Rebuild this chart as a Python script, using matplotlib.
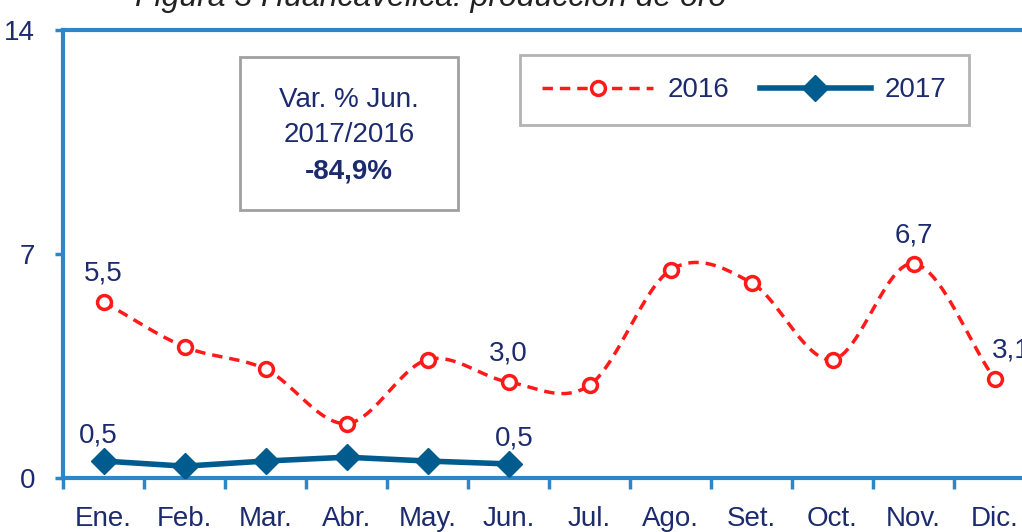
import matplotlib.pyplot as plt
from matplotlib.patches import Rectangle
import numpy as np

months = ["Ene.", "Feb.", "Mar.", "Abr.", "May.", "Jun.", "Jul.", "Ago.", "Set.", "Oct.", "Nov.", "Dic."]
prod_2016 = [5.5, 4.1, 3.4, 1.7, 3.7, 3.0, 2.9, 6.5, 6.1, 3.7, 6.7, 3.1]
prod_2017 = [0.53, 0.37, 0.53, 0.65, 0.53, 0.44]
labels_2016 = {0: "5,5", 5: "3,0", 10: "6,7", 11: "3,1"}
labels_2017 = {0: "0,5", 5: "0,5"}

FONT = ["Liberation Sans Narrow", "Liberation Sans", "DejaVu Sans"]
NAVY = "#1c2b6e"
AXBLUE = "#2f86c6"
RED = "#ff1a1a"
TEAL = "#005c8f"
FS = 20


def smooth(xs, ys, n=20):
    # Catmull-Rom curve through the points, like Excel smoothed lines
    xs = np.asarray(xs, float)
    ys = np.asarray(ys, float)
    px = np.concatenate([[2 * xs[0] - xs[1]], xs, [2 * xs[-1] - xs[-2]]])
    py = np.concatenate([[2 * ys[0] - ys[1]], ys, [2 * ys[-1] - ys[-2]]])
    ox, oy = [], []
    t = np.linspace(0, 1, n, endpoint=False)
    for i in range(1, len(px) - 2):
        for p, out in ((px, ox), (py, oy)):
            p0, p1, p2, p3 = p[i - 1], p[i], p[i + 1], p[i + 2]
            out.extend(0.5 * (2 * p1 + (-p0 + p2) * t + (2 * p0 - 5 * p1 + 4 * p2 - p3) * t ** 2
                              + (-p0 + 3 * p1 - 3 * p2 + p3) * t ** 3))
    ox.append(xs[-1])
    oy.append(ys[-1])
    return ox, oy


plt.rcParams['font.family'] = FONT

fig = plt.figure(figsize=(10.22, 5.32), dpi=100)
W, H = 1022, 532
ax = fig.add_axes([63 / W, 54 / H, (1035 - 63) / W, 448 / H])

x16 = np.arange(len(prod_2016))
x17 = np.arange(len(prod_2017))

sx, sy = smooth(x16, prod_2016)
ax.plot(sx, sy, color=RED, lw=2.5, ls=(0, (3, 2)), zorder=3)
ax.plot(x16, prod_2016, ls="none", marker="o", ms=10, mfc="white", mec=RED, mew=2.5, zorder=4)
ax.plot(x17, prod_2017, color=TEAL, lw=4, marker="D", ms=13, zorder=5)

# legend proxies
h16, = ax.plot([], [], color=RED, lw=2.5, ls=(0, (3, 2)), marker="o", ms=10, mfc="white", mec=RED, mew=2.5)
h17, = ax.plot([], [], color=TEAL, lw=4, marker="D", ms=13)

for i, t in labels_2016.items():
    dx = 12 if i == 11 else 0
    ax.annotate(t, (x16[i], prod_2016[i]), xytext=(dx, 11), textcoords="offset points",
                ha="center", va="bottom", fontsize=FS, color=NAVY)
for i, t in labels_2017.items():
    ax.annotate(t, (x17[i], prod_2017[i]), xytext=(-4 if i == 0 else 4, 9), textcoords="offset points",
                ha="center", va="bottom", fontsize=FS, color=NAVY)

ax.set_xlim(-0.5, 11.5)
ax.set_ylim(0, 14)
ax.set_yticks([0, 7, 14])
ax.set_yticklabels(["0", "7", "14"], fontsize=FS, color=NAVY)
ax.set_xticks(np.arange(-0.5, 12, 1))
ax.set_xticklabels([])
ax.set_xticks(x16, minor=True)
ax.set_xticklabels(months, minor=True, fontsize=FS, color=NAVY)
ax.tick_params(axis="x", which="major", length=8, width=2.5, color=AXBLUE, direction="out")
ax.tick_params(axis="x", which="minor", length=0, pad=20)
ax.tick_params(axis="y", length=6, width=2.5, color=AXBLUE, pad=14)

for s in ["left", "bottom", "top"]:
    ax.spines[s].set_color(AXBLUE)
    ax.spines[s].set_linewidth(3)
ax.spines["right"].set_visible(False)

# variation box
fig.patches.append(Rectangle((240 / W, 1 - 210 / H), 218 / W, 153 / H, transform=fig.transFigure,
                             fc="white", ec="#a0a0a0", lw=2, zorder=6))
fig.text(349 / W, 1 - 100 / H, "Var. % Jun.", ha="center", va="center", fontsize=FS, color=NAVY, zorder=7)
fig.text(349 / W, 1 - 135 / H, "2017/2016", ha="center", va="center", fontsize=FS, color=NAVY, zorder=7)
fig.text(349 / W, 1 - 172 / H, "-84,9%", ha="center", va="center", fontsize=FS,
         color=NAVY, fontweight="bold", zorder=7)

leg = ax.legend([h16, h17], ["2016", "2017"], ncol=2, loc="upper left",
                bbox_to_anchor=(520 / W, 1 - 55 / H), bbox_transform=fig.transFigure,
                fontsize=FS, handlelength=4.0, columnspacing=1.1, handletextpad=0.5,
                borderpad=0.8, borderaxespad=0, frameon=True, fancybox=False, edgecolor="#a0a0a0")
leg.get_frame().set_linewidth(2)
for t in leg.get_texts():
    t.set_color(NAVY)

fig.text(135 / W, 1 - 6 / H, "Figura 3 Huancavelica: producción de oro", fontsize=23,
         style="italic", color="#222222", ha="left", va="baseline")

fig.savefig("out.png", dpi=100)
